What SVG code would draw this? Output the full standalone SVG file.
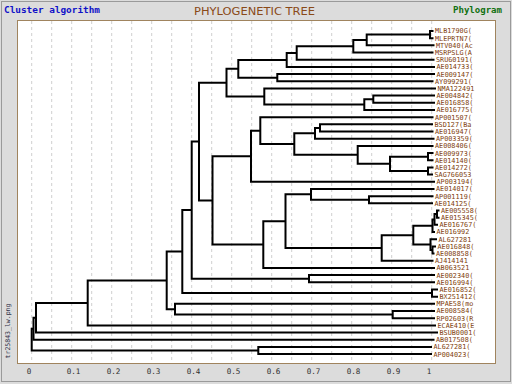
<svg xmlns="http://www.w3.org/2000/svg" width="512" height="384" viewBox="0 0 512 384">
<style>
.lbl{font-family:"DejaVu Sans Mono","Liberation Mono",monospace;font-size:6.8px;fill:#80400c}
.ax{font-family:"DejaVu Sans Mono","Liberation Mono",monospace;font-size:7.6px;fill:#303030}
.tree path{fill:none;stroke:#000;stroke-width:2;stroke-linejoin:miter}
.grid line{stroke:#cfcfcf;stroke-width:1;stroke-dasharray:3 3}
</style>
<rect x="0" y="0" width="512" height="384" fill="#dcdcdc"/>
<rect x="1.5" y="1.5" width="509" height="380" fill="none" stroke="#9a9a9a"/>
<text x="4" y="13" font-family="DejaVu Sans Mono,monospace" font-weight="bold" font-size="9" fill="#1010c8" textLength="96" lengthAdjust="spacingAndGlyphs">Cluster algorithm</text>
<text x="254.5" y="14.5" text-anchor="middle" font-family="DejaVu Sans,sans-serif" font-size="11" fill="#8a4a18" textLength="121" lengthAdjust="spacingAndGlyphs">PHYLOGENETIC TREE</text>
<text x="502" y="13" text-anchor="end" font-family="DejaVu Sans Mono,monospace" font-weight="bold" font-size="9" fill="#107010" textLength="49" lengthAdjust="spacingAndGlyphs">Phylogram</text>
<rect x="17.5" y="20.5" width="478" height="343" fill="#ffffff" stroke="#a0845e"/>
<g class="grid">
<line x1="31.7" y1="21" x2="31.7" y2="363"/><line x1="51.7" y1="21" x2="51.7" y2="363"/><line x1="71.7" y1="21" x2="71.7" y2="363"/><line x1="91.7" y1="21" x2="91.7" y2="363"/><line x1="111.7" y1="21" x2="111.7" y2="363"/><line x1="131.7" y1="21" x2="131.7" y2="363"/><line x1="151.7" y1="21" x2="151.7" y2="363"/><line x1="171.7" y1="21" x2="171.7" y2="363"/><line x1="191.7" y1="21" x2="191.7" y2="363"/><line x1="211.7" y1="21" x2="211.7" y2="363"/><line x1="231.7" y1="21" x2="231.7" y2="363"/><line x1="251.7" y1="21" x2="251.7" y2="363"/><line x1="271.7" y1="21" x2="271.7" y2="363"/><line x1="291.7" y1="21" x2="291.7" y2="363"/><line x1="311.7" y1="21" x2="311.7" y2="363"/><line x1="331.7" y1="21" x2="331.7" y2="363"/><line x1="351.7" y1="21" x2="351.7" y2="363"/><line x1="371.7" y1="21" x2="371.7" y2="363"/><line x1="391.7" y1="21" x2="391.7" y2="363"/><line x1="411.7" y1="21" x2="411.7" y2="363"/><line x1="431.7" y1="21" x2="431.7" y2="363"/>
</g>
<text transform="translate(10,331) rotate(-90)" text-anchor="middle" font-family="DejaVu Sans Mono,monospace" font-size="6.5" fill="#303048">tr25843_lw.png</text>
<g id="axis">
<text class="ax" x="26.7" y="374">0</text><text class="ax" x="66.7" y="374">0.1</text><text class="ax" x="106.7" y="374">0.2</text><text class="ax" x="146.7" y="374">0.3</text><text class="ax" x="186.7" y="374">0.4</text><text class="ax" x="226.7" y="374">0.5</text><text class="ax" x="266.7" y="374">0.6</text><text class="ax" x="306.7" y="374">0.7</text><text class="ax" x="346.7" y="374">0.8</text><text class="ax" x="386.7" y="374">0.9</text><text class="ax" x="426.7" y="374">1</text>
</g>
<g id="connectors" class="tree">
<path d="M433.5 31H430V38.18H433.5"/>
<path d="M430 34.59H366.7V45.36H434.5"/>
<path d="M366.7 39.98H353.3V52.54H433.5"/>
<path d="M353.3 46.26H296.7V59.72H434.5"/>
<path d="M296.7 52.99H286.7V66.9H435"/>
<path d="M435 74.08H277.3V81.26H433.5"/>
<path d="M286.7 59.95H238.3V77.67H277.3"/>
<path d="M435 95.62H373.3V102.8H435"/>
<path d="M373.3 99.21H364.3V109.98H435"/>
<path d="M436 88.44H264.3V104.6H364.3"/>
<path d="M238.3 68.81H226.5V96.52H264.3"/>
<path d="M433 124.34H320V131.52H433.5"/>
<path d="M320 127.93H315V138.7H434.5"/>
<path d="M433.5 153.06H428V160.24H433.5"/>
<path d="M433.5 167.42H428V174.6H433"/>
<path d="M428 156.65H390V171.01H428"/>
<path d="M433.5 145.88H357.7V163.83H390"/>
<path d="M315 133.32H294.3V154.86H357.7"/>
<path d="M433.5 117.16H260.3V144.09H294.3"/>
<path d="M260.3 130.63H251V181.78H435"/>
<path d="M433.5 196.14H369V203.32H433"/>
<path d="M434.5 188.96H311V199.73H369"/>
<path d="M439.5 210.5H437V217.68H439.5"/>
<path d="M437 214.09H434.5V224.86H438"/>
<path d="M434.5 219.48H432.5V232.04H435"/>
<path d="M436 246.4H432.5V253.58H434.5"/>
<path d="M437 239.22H430.5V249.99H432.5"/>
<path d="M432.5 225.76H413.3V244.6H430.5"/>
<path d="M413.3 235.18H381.7V260.76H433.5"/>
<path d="M311 194.35H285.5V247.97H381.7"/>
<path d="M285.5 221.16H263.3V267.94H435"/>
<path d="M251 156.2H212.5V244.55H263.3"/>
<path d="M226.5 82.67H199V200.38H212.5"/>
<path d="M435 275.12H309V282.3H435"/>
<path d="M199 141.53H191.7V278.71H309"/>
<path d="M438 289.48H432V296.66H438"/>
<path d="M191.7 210.12H182.3V293.07H432"/>
<path d="M435 311.02H392.7V318.2H435"/>
<path d="M435 303.84H175V314.61H392.7"/>
<path d="M182.3 251.6H166.7V309.23H175"/>
<path d="M166.7 280.42H87.7V325.38H436"/>
<path d="M87.7 302.9H36V332.56H438"/>
<path d="M36 317.73H33.5V339.74H434.5"/>
<path d="M432 346.92H258.3V354.1H432"/>
<path d="M33.5 328.74H31.7V350.51H258.3"/>
</g>
<g id="leaf0"><text class="lbl" x="435" y="33.4">MLB1790G(</text></g>
<g id="leaf1"><text class="lbl" x="435" y="40.6">MLEPRTN7(</text></g>
<g id="leaf2"><text class="lbl" x="436" y="47.8">MTV040(Ac</text></g>
<g id="leaf3"><text class="lbl" x="435" y="54.9">MSRPSLG(A</text></g>
<g id="leaf4"><text class="lbl" x="436" y="62.1">SRU60191(</text></g>
<g id="leaf5"><text class="lbl" x="436.5" y="69.3">AE014733(</text></g>
<g id="leaf6"><text class="lbl" x="436.5" y="76.5">AE009147(</text></g>
<g id="leaf7"><text class="lbl" x="435" y="83.7">AY099291(</text></g>
<g id="leaf8"><text class="lbl" x="437.5" y="90.8">NMA122491</text></g>
<g id="leaf9"><text class="lbl" x="436.5" y="98">AE004842(</text></g>
<g id="leaf10"><text class="lbl" x="436.5" y="105.2">AE016858(</text></g>
<g id="leaf11"><text class="lbl" x="436.5" y="112.4">AE016775(</text></g>
<g id="leaf12"><text class="lbl" x="435" y="119.6">AP001507(</text></g>
<g id="leaf13"><text class="lbl" x="434.5" y="126.7">BSD127(Ba</text></g>
<g id="leaf14"><text class="lbl" x="435" y="133.9">AE016947(</text></g>
<g id="leaf15"><text class="lbl" x="436" y="141.1">AP003359(</text></g>
<g id="leaf16"><text class="lbl" x="435" y="148.3">AE008406(</text></g>
<g id="leaf17"><text class="lbl" x="435" y="155.5">AE009973(</text></g>
<g id="leaf18"><text class="lbl" x="435" y="162.6">AE014140(</text></g>
<g id="leaf19"><text class="lbl" x="435" y="169.8">AE014272(</text></g>
<g id="leaf20"><text class="lbl" x="434.5" y="177">SAG766053</text></g>
<g id="leaf21"><text class="lbl" x="436.5" y="184.2">AP003194(</text></g>
<g id="leaf22"><text class="lbl" x="436" y="191.4">AE014017(</text></g>
<g id="leaf23"><text class="lbl" x="435" y="198.5">AP001119(</text></g>
<g id="leaf24"><text class="lbl" x="434.5" y="205.7">AE014125(</text></g>
<g id="leaf25"><text class="lbl" x="441" y="212.9">AE005558(</text></g>
<g id="leaf26"><text class="lbl" x="441" y="220.1">AE015345(</text></g>
<g id="leaf27"><text class="lbl" x="439.5" y="227.3">AE016767(</text></g>
<g id="leaf28"><text class="lbl" x="436.5" y="234.4">AE016992</text></g>
<g id="leaf29"><text class="lbl" x="438.5" y="241.6">AL627281</text></g>
<g id="leaf30"><text class="lbl" x="437.5" y="248.8">AE016848(</text></g>
<g id="leaf31"><text class="lbl" x="436" y="256">AE008858(</text></g>
<g id="leaf32"><text class="lbl" x="435" y="263.2">AJ414141</text></g>
<g id="leaf33"><text class="lbl" x="436.5" y="270.3">AB063521</text></g>
<g id="leaf34"><text class="lbl" x="436.5" y="277.5">AE002340(</text></g>
<g id="leaf35"><text class="lbl" x="436.5" y="284.7">AE016994(</text></g>
<g id="leaf36"><text class="lbl" x="439.5" y="291.9">AE016852(</text></g>
<g id="leaf37"><text class="lbl" x="439.5" y="299.1">BX251412(</text></g>
<g id="leaf38"><text class="lbl" x="436.5" y="306.2">MPAE58(mo</text></g>
<g id="leaf39"><text class="lbl" x="436.5" y="313.4">AE008584(</text></g>
<g id="leaf40"><text class="lbl" x="436.5" y="320.6">RP02603(R</text></g>
<g id="leaf41"><text class="lbl" x="437.5" y="327.8">ECAE410(E</text></g>
<g id="leaf42"><text class="lbl" x="439.5" y="335">BSUB0001(</text></g>
<g id="leaf43"><text class="lbl" x="436" y="342.1">AB017508(</text></g>
<g id="leaf44"><text class="lbl" x="433.5" y="349.3">AL627281(</text></g>
<g id="leaf45"><text class="lbl" x="433.5" y="356.5">AP004023(</text></g>
</svg>
